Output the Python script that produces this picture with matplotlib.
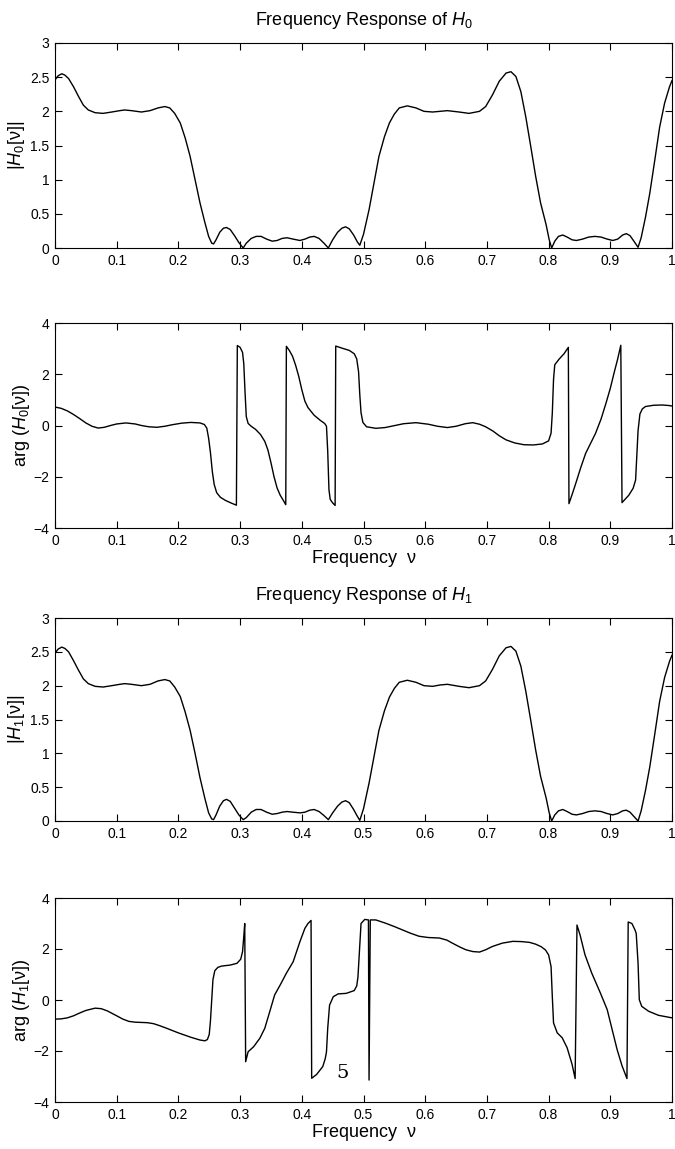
import matplotlib
matplotlib.use("Agg")
import matplotlib.pyplot as plt

plt.rcParams['font.family'] = ['Liberation Sans', 'DejaVu Sans']
plt.rcParams['mathtext.fontset'] = 'custom'
plt.rcParams['mathtext.rm'] = 'Liberation Sans'
plt.rcParams['mathtext.it'] = 'Liberation Sans:italic'

# ---------------- data ----------------
f_mag0 = [0, 0.005, 0.011, 0.016, 0.022, 0.030, 0.038, 0.046, 0.054, 0.065, 0.078, 0.092,
          0.105, 0.113, 0.124, 0.140, 0.154, 0.167, 0.178, 0.186, 0.194, 0.203, 0.211, 0.219,
          0.227, 0.235, 0.243, 0.249, 0.254, 0.257, 0.261, 0.267, 0.273, 0.278, 0.284, 0.291,
          0.298, 0.305, 0.310, 0.318, 0.326, 0.334, 0.343, 0.352, 0.36, 0.368, 0.376, 0.386,
          0.397, 0.405, 0.413, 0.42, 0.428, 0.436, 0.443, 0.45, 0.458, 0.465, 0.471, 0.477,
          0.484, 0.49, 0.494, 0.5, 0.509, 0.517, 0.525, 0.534, 0.542, 0.550, 0.558, 0.571,
          0.585, 0.598, 0.612, 0.624, 0.636, 0.655, 0.671, 0.688, 0.698, 0.709, 0.720, 0.731,
          0.739, 0.747, 0.755, 0.763, 0.771, 0.779, 0.787, 0.796, 0.801, 0.805, 0.81, 0.816,
          0.823, 0.83, 0.838, 0.845, 0.855, 0.865, 0.875, 0.885, 0.895, 0.904, 0.912, 0.92,
          0.926, 0.932, 0.939, 0.945, 0.95, 0.957, 0.964, 0.972, 0.98, 0.988, 0.996, 1.0]
mag0 = [2.46, 2.52, 2.55, 2.53, 2.48, 2.36, 2.22, 2.09, 2.02, 1.98, 1.97, 1.99,
        2.01, 2.02, 2.01, 1.99, 2.01, 2.05, 2.07, 2.05, 1.97, 1.83, 1.61, 1.34,
        1.00, 0.66, 0.37, 0.17, 0.07, 0.06, 0.12, 0.23, 0.29, 0.30, 0.27, 0.18,
        0.08, 0.0, 0.07, 0.14, 0.17, 0.17, 0.13, 0.10, 0.11, 0.14, 0.15, 0.13,
        0.11, 0.13, 0.16, 0.17, 0.14, 0.07, 0.0, 0.12, 0.23, 0.29, 0.31, 0.28,
        0.19, 0.09, 0.04, 0.20, 0.56, 0.95, 1.34, 1.63, 1.83, 1.96, 2.05, 2.08,
        2.05, 2.00, 1.99, 2.00, 2.01, 1.99, 1.97, 2.00, 2.07, 2.24, 2.44, 2.56,
        2.58, 2.51, 2.29, 1.92, 1.49, 1.05, 0.66, 0.34, 0.12, 0.0, 0.10, 0.17,
        0.19, 0.16, 0.12, 0.11, 0.13, 0.16, 0.17, 0.16, 0.13, 0.11, 0.13, 0.19,
        0.21, 0.18, 0.09, 0.01, 0.15, 0.45, 0.80, 1.28, 1.77, 2.12, 2.36, 2.45]

f_mag1 = f_mag0
mag1 = [2.48, 2.54, 2.57, 2.55, 2.50, 2.37, 2.23, 2.10, 2.03, 1.99, 1.98, 2.00,
        2.02, 2.03, 2.02, 2.00, 2.02, 2.07, 2.09, 2.07, 1.98, 1.84, 1.61, 1.34,
        1.00, 0.64, 0.33, 0.12, 0.03, 0.02, 0.09, 0.22, 0.30, 0.32, 0.29, 0.19,
        0.09, 0.02, 0.05, 0.13, 0.17, 0.17, 0.13, 0.10, 0.11, 0.13, 0.14, 0.13,
        0.12, 0.13, 0.16, 0.17, 0.14, 0.08, 0.02, 0.12, 0.22, 0.28, 0.30, 0.27,
        0.17, 0.07, 0.01, 0.18, 0.56, 0.95, 1.34, 1.63, 1.83, 1.96, 2.05, 2.08,
        2.05, 2.00, 1.99, 2.01, 2.02, 1.99, 1.97, 2.00, 2.07, 2.24, 2.44, 2.56,
        2.58, 2.51, 2.29, 1.92, 1.49, 1.05, 0.66, 0.34, 0.12, 0.0, 0.09, 0.15,
        0.17, 0.14, 0.10, 0.09, 0.11, 0.14, 0.15, 0.14, 0.11, 0.09, 0.11, 0.15,
        0.16, 0.13, 0.06, 0.0, 0.15, 0.45, 0.80, 1.28, 1.77, 2.12, 2.36, 2.45]

f_arg0 = [0, 0.01, 0.02, 0.03, 0.04, 0.05, 0.06, 0.07, 0.08, 0.09, 0.1, 0.115, 0.13, 0.14,
          0.152, 0.165, 0.178, 0.19, 0.205, 0.22, 0.235, 0.242, 0.246, 0.249, 0.252, 0.255,
          0.258, 0.262, 0.268, 0.276, 0.285, 0.294, 0.2955, 0.300, 0.304, 0.306, 0.308,
          0.31, 0.313, 0.318, 0.325, 0.333, 0.34, 0.345, 0.35, 0.355, 0.36, 0.365, 0.37,
          0.374, 0.375, 0.38, 0.385, 0.39, 0.395, 0.40, 0.405, 0.41, 0.42, 0.43, 0.437,
          0.440, 0.442, 0.444, 0.446, 0.45, 0.454, 0.455, 0.465, 0.477, 0.485, 0.489,
          0.492, 0.494, 0.496, 0.499, 0.505, 0.52, 0.535, 0.547, 0.565, 0.585, 0.605,
          0.62, 0.636, 0.65, 0.665, 0.677, 0.688, 0.698, 0.71, 0.72, 0.731, 0.745, 0.76,
          0.775, 0.79, 0.80, 0.804, 0.806, 0.808, 0.81, 0.817, 0.825, 0.832, 0.833, 0.838,
          0.844, 0.852, 0.86, 0.868, 0.876, 0.885, 0.893, 0.9, 0.906, 0.912, 0.917, 0.919,
          0.925, 0.93, 0.937, 0.941, 0.943, 0.945, 0.948, 0.952, 0.957, 0.97, 0.984,
          0.995, 1.0]
arg0 = [0.72, 0.67, 0.57, 0.43, 0.27, 0.10, -0.03, -0.10, -0.07, 0.0, 0.06, 0.10, 0.06, 0.0,
        -0.05, -0.07, -0.03, 0.03, 0.09, 0.12, 0.10, 0.04, -0.10, -0.5, -1.07, -1.8,
        -2.3, -2.62, -2.80, -2.92, -3.02, -3.11, 3.12, 3.05, 2.85, 2.4, 1.3,
        0.35, 0.08, -0.03, -0.15, -0.35, -0.62, -0.95, -1.45, -2.0, -2.44, -2.72, -2.92,
        -3.09, 3.09, 2.92, 2.70, 2.35, 1.92, 1.40, 0.95, 0.70, 0.40, 0.20, 0.08,
        -0.03, -1.0, -2.5, -2.88, -3.02, -3.12, 3.10, 3.02, 2.93, 2.80, 2.6,
        2.1, 1.2, 0.5, 0.12, -0.05, -0.11, -0.08, -0.02, 0.07, 0.11, 0.05,
        -0.03, -0.08, -0.03, 0.07, 0.11, 0.05, -0.05, -0.22, -0.40, -0.56, -0.68, -0.75,
        -0.76, -0.72, -0.6, -0.3, 0.48, 1.8, 2.37, 2.59, 2.80, 3.05, -3.05, -2.70,
        -2.26, -1.65, -1.09, -0.70, -0.31, 0.25, 0.87, 1.45, 2.04, 2.6, 3.13, -3.01,
        -2.85, -2.72, -2.45, -2.13, -1.2, -0.2, 0.45, 0.65, 0.74, 0.79, 0.80,
        0.78, 0.76]

f_arg1 = [0, 0.01, 0.02, 0.03, 0.04, 0.05, 0.065, 0.075, 0.085, 0.1, 0.11, 0.12, 0.13, 0.14,
          0.15, 0.16, 0.17, 0.18, 0.2, 0.22, 0.235, 0.243, 0.247, 0.25, 0.252, 0.254, 0.256,
          0.259, 0.264, 0.27, 0.284, 0.295, 0.301, 0.304, 0.306, 0.3075, 0.309, 0.313,
          0.322, 0.332, 0.340, 0.348, 0.356, 0.365, 0.375, 0.386, 0.397, 0.405, 0.410,
          0.415, 0.416, 0.424, 0.434, 0.438, 0.440, 0.442, 0.445, 0.451, 0.459, 0.472,
          0.485, 0.489, 0.491, 0.494, 0.496, 0.502, 0.508, 0.509, 0.511, 0.52, 0.536,
          0.55, 0.563, 0.576, 0.590, 0.605, 0.623, 0.635, 0.644, 0.656, 0.666, 0.677,
          0.688, 0.698, 0.709, 0.725, 0.742, 0.756, 0.769, 0.779, 0.788, 0.795, 0.8,
          0.804, 0.806, 0.808, 0.814, 0.822, 0.830, 0.838, 0.843, 0.846, 0.851, 0.859,
          0.870, 0.884, 0.895, 0.903, 0.911, 0.919, 0.927, 0.929, 0.935, 0.940, 0.942,
          0.945, 0.947, 0.951, 0.962, 0.978, 1.0]
arg1 = [-0.75, -0.74, -0.70, -0.62, -0.51, -0.41, -0.32, -0.34, -0.43, -0.62, -0.75, -0.84,
        -0.87, -0.88, -0.89, -0.93, -1.01, -1.10, -1.29, -1.46, -1.57, -1.60, -1.55, -1.35,
        -0.8, 0.0, 0.8, 1.15, 1.28, 1.33, 1.37, 1.44, 1.6, 1.9, 2.5, 3.0, -2.42, -2.03,
        -1.83, -1.50, -1.11, -0.46, 0.20, 0.59, 1.05, 1.50, 2.29, 2.81, 3.0,
        3.12, -3.07, -2.92, -2.61, -2.3, -2.03, -1.11, -0.20, 0.13, 0.24, 0.26,
        0.37, 0.55, 0.9, 2.16, 3.0, 3.16, 3.14, -3.14, 3.14, 3.14, 3.01,
        2.88, 2.75, 2.62, 2.50, 2.45, 2.43, 2.35, 2.23, 2.08, 1.97, 1.90,
        1.88, 1.97, 2.10, 2.23, 2.30, 2.29, 2.26, 2.19, 2.09, 1.96, 1.77,
        1.31, 0.14, -0.90, -1.29, -1.48, -1.87, -2.52, -3.08, 2.94, 2.55, 1.77,
        1.05, 0.27, -0.38, -1.16, -1.94, -2.58, -3.08, 3.06, 3.0, 2.75, 2.61,
        1.44, 0.01, -0.25, -0.44, -0.60, -0.70]

x_ticks = [0, 0.1, 0.2, 0.3, 0.4, 0.5, 0.6, 0.7, 0.8, 0.9, 1]
x_ticklabels = ['0', '0.1', '0.2', '0.3', '0.4', '0.5', '0.6', '0.7', '0.8', '0.9', '1']
mag_ticks = [0, 0.5, 1, 1.5, 2, 2.5, 3]
mag_ticklabels = ['0', '0.5', '1', '1.5', '2', '2.5', '3']
arg_ticks = [-4, -2, 0, 2, 4]
arg_ticklabels = ['\u22124', '\u22122', '0', '2', '4']

# ---------------- figure ----------------
W, H = 675, 1149
fig = plt.figure(figsize=(W / 100, H / 100), dpi=100)

def axbox(top, bottom, left=55, right=672):
    return [left / W, 1 - bottom / H, (right - left) / W, (bottom - top) / H]

def style(ax):
    ax.set_xlim(0, 1)
    ax.set_xticks(x_ticks)
    ax.set_xticklabels(x_ticklabels)
    ax.tick_params(direction='in', top=True, right=True, length=5, width=0.8,
                   labelsize=10, pad=4)
    for s in ax.spines.values():
        s.set_linewidth(0.8)

panels = [
    (axbox(43, 248), f_mag0, mag0, (0, 3), mag_ticks, mag_ticklabels, '|$H_0$[\u03bd]|', -0.046),
    (axbox(323, 528), f_arg0, arg0, (-4, 4), arg_ticks, arg_ticklabels, 'arg ($H_0$[\u03bd])', -0.038),
    (axbox(618, 821), f_mag1, mag1, (0, 3), mag_ticks, mag_ticklabels, '|$H_1$[\u03bd]|', -0.046),
    (axbox(898, 1102), f_arg1, arg1, (-4, 4), arg_ticks, arg_ticklabels, 'arg ($H_1$[\u03bd])', -0.038),
]
axes = []
for box, fx, fy, yl, yt, ytl, lab, lx in panels:
    ax = fig.add_axes(box)
    ax.plot(fx, fy, color='black', lw=1.0)
    ax.set_ylim(*yl)
    ax.set_yticks(yt)
    ax.set_yticklabels(ytl)
    style(ax)
    ax.set_ylabel(lab, fontsize=13)
    ax.yaxis.set_label_coords(lx, 0.5)
    axes.append(ax)

axes[0].set_title('Frequency Response of $H_0$', fontsize=13, pad=13)
axes[2].set_title('Frequency Response of $H_1$', fontsize=13, pad=13)
axes[1].set_xlabel('Frequency  \u03bd', fontsize=13, labelpad=2)
axes[3].set_xlabel('Frequency  \u03bd', fontsize=13, labelpad=2)

fig.text(343 / W, 1 - 1073 / H, '5', family='DejaVu Serif', fontsize=14,
         ha='center', va='center')

fig.savefig('out.png', dpi=100)
